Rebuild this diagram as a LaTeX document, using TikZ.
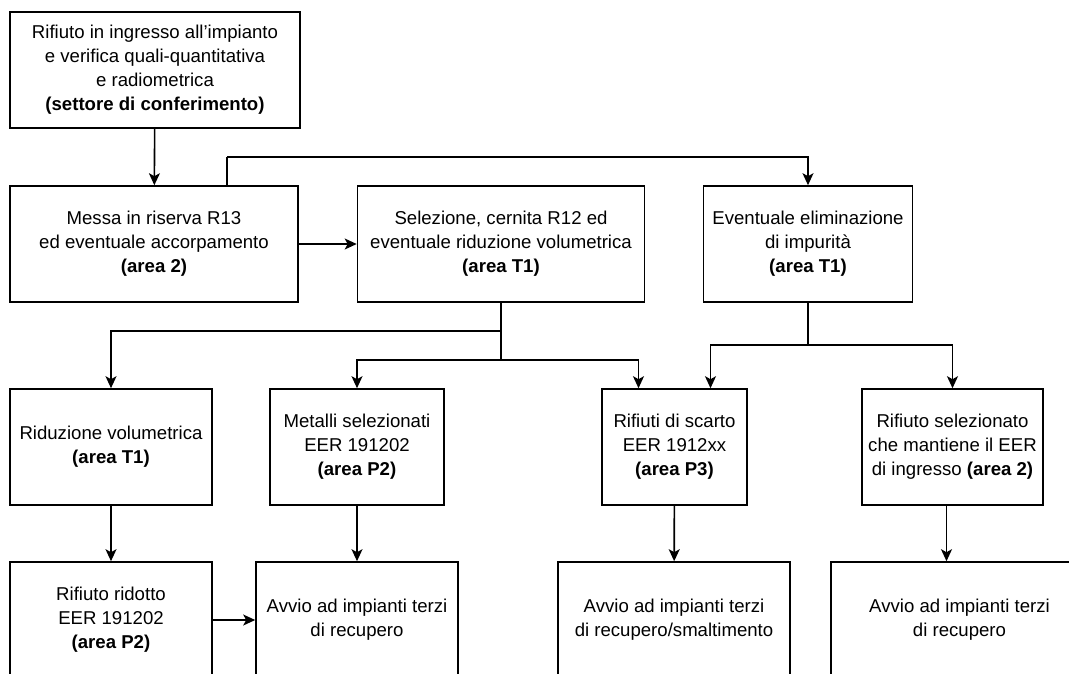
\documentclass[tikz,border=0pt]{standalone}
\usepackage{fontspec}
\setmainfont{Liberation Sans}
\usetikzlibrary{arrows.meta,positioning,calc}

\begin{document}
\begin{tikzpicture}[
    x=1pt, y=-1pt,
    box/.style={rectangle, draw, line width=1.6pt, minimum height=116pt, inner sep=2pt, font=\fontsize{18.6}{24}\selectfont, align=center},
    arrow/.style={-{Stealth[length=12pt,width=11pt,inset=3pt]}, line width=1.6pt},
    link/.style={line width=1.6pt}
]
\useasboundingbox (0,0) rectangle (1069,673);
\clip (0,0) rectangle (1069,673);

\node[box, minimum width=290pt] (ingresso) at (155,70) {Rifiuto in ingresso all’impianto\\e verifica quali-quantitativa\\e radiometrica\\\textbf{(settore di conferimento)}};

\node[box, minimum width=288pt] (riserva) at (154,244) {Messa in riserva R13\\ed eventuale accorpamento\\\textbf{(area 2)}};
\node[box, minimum width=287pt] (selezione) at (501,244) {Selezione, cernita R12 ed\\eventuale riduzione volumetrica\\\textbf{(area T1)}};
\node[box, minimum width=209pt] (impurita) at (808,244) {Eventuale eliminazione\\di impurità\\\textbf{(area T1)}};

\node[box, minimum width=202pt] (riduzione) at (111,447) {Riduzione volumetrica\\\textbf{(area T1)}};
\node[box, minimum width=174pt] (metalli) at (357,447) {Metalli selezionati\\EER 191202\\\textbf{(area P2)}};
\node[box, minimum width=145pt] (scarto) at (674.5,447) {Rifiuti di scarto\\EER 1912xx\\\textbf{(area P3)}};
\node[box, minimum width=181pt] (mantenuto) at (952.5,447) {Rifiuto selezionato\\che mantiene il EER\\di ingresso \textbf{(area 2)}};

\node[box, minimum width=202pt] (ridotto) at (111,620) {Rifiuto ridotto\\EER 191202\\\textbf{(area P2)}};
\node[box, minimum width=202pt] (avvio1) at (357,620) {Avvio ad impianti terzi\\di recupero};
\node[box, minimum width=232pt] (avvio2) at (674,620) {Avvio ad impianti terzi\\di recupero/smaltimento};
\node[box, minimum width=257pt] (avvio3) at (959.5,620) {Avvio ad impianti terzi\\di recupero};

\coordinate (selfork1) at (501,331);
\coordinate (selfork2) at (501,360);
\coordinate (impfork) at (808,345);
\coordinate (bypass) at (227,157);

\draw[arrow] (ingresso) -- (riserva);
\draw[arrow] (riserva) -- (selezione);
\draw[link] (riserva.north -| bypass) -- (bypass);
\draw[arrow] (bypass) -| (impurita.north);

\draw[link] (selezione.south) -- (selfork2);
\draw[arrow] (selfork1) -| (riduzione.north);
\draw[arrow] (selfork2) -| (metalli.north);
\draw[arrow] (selfork2) -| ([xshift=-36pt]scarto.north);

\draw[link] (impurita.south) -- (impfork);
\draw[arrow] (impfork) -| ([xshift=36pt]scarto.north);
\draw[arrow] (impfork) -| (mantenuto.north);

\draw[arrow] (riduzione) -- (ridotto);
\draw[arrow] (ridotto) -- (avvio1);
\draw[arrow] (metalli) -- (avvio1);
\draw[arrow] (scarto) -- (avvio2);
\draw[arrow] ([xshift=-6pt]mantenuto.south) -- ([xshift=-6pt]mantenuto.south |- avvio3.north);

\end{tikzpicture}
\end{document}
